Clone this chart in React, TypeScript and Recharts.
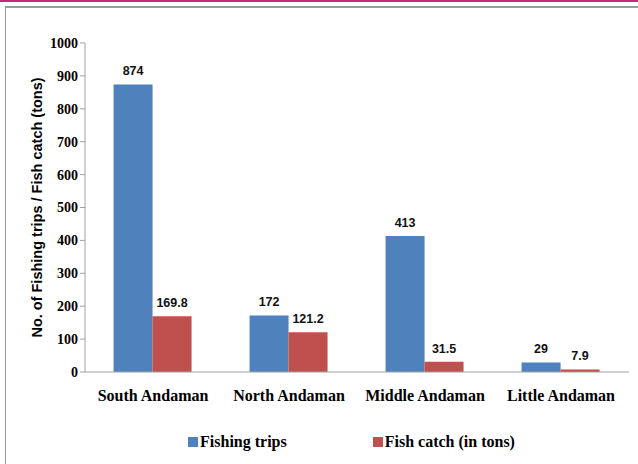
import React from 'react';
import { BarChart, Bar, XAxis, YAxis, Legend, LabelList } from 'recharts';

const regions = ['South Andaman', 'North Andaman', 'Middle Andaman', 'Little Andaman'];
const fishingTrips = [874, 172, 413, 29];
const fishCatch = [169.8, 121.2, 31.5, 7.9];
const yTicks = [0, 100, 200, 300, 400, 500, 600, 700, 800, 900, 1000];

const BLUE = '#4F81BD';
const RED = '#C0504D';

const data = regions.map((region, i) => ({
  region,
  trips: fishingTrips[i],
  catch: fishCatch[i]
}));

const serif = 'Liberation Serif, Times New Roman, serif';
const sans = 'Liberation Sans, Arial, sans-serif';

const legendItems = [
  { label: 'Fishing trips', color: BLUE },
  { label: 'Fish catch (in tons)', color: RED }
];

const ChartLegend = () => (
  <div style={{ display: 'flex', justifyContent: 'center', gap: 86, paddingLeft: 74, paddingTop: 6 }}>
    {legendItems.map((item) => (
      <div key={item.label} style={{ display: 'flex', alignItems: 'center' }}>
        <span style={{ width: 10, height: 10, background: item.color, marginRight: 2 }} />
        <span style={{ fontFamily: serif, fontWeight: 'bold', fontSize: 16, color: '#000' }}>{item.label}</span>
      </div>
    ))}
  </div>
);

// magenta rule on top, grey edge on the left and top
const Frame = () => (
  <svg width={638} height={464} style={{ position: 'absolute', left: 0, top: 0 }}>
    <rect x={0} y={0} width={638} height={2} fill="#C8287A" />
    <rect x={5} y={6} width={633} height={2} fill="#9a9a9a" />
    <rect x={5} y={6} width={1} height={458} fill="#9a9a9a" />
  </svg>
);

const App = () => {
  return (
    <div style={{ position: 'fixed', left: 0, top: 0, width: 638, height: 464, background: '#fff' }}>
      <Frame />
      <div style={{ position: 'absolute', left: 0, top: 0 }}>
        <BarChart
          width={638}
          height={464}
          data={data}
          margin={{ top: 43, right: 9, left: 0, bottom: 7 }}
          barCategoryGap="21%"
          barGap={0}
        >
          <XAxis
            dataKey="region"
            height={55}
            tickLine={false}
            axisLine={{ stroke: '#a0a0a0' }}
            tick={{ fontFamily: serif, fontWeight: 'bold', fontSize: 16, fill: '#000' }}
            tickMargin={12}
          />
          <YAxis
            width={85}
            domain={[0, 1000]}
            ticks={yTicks}
            interval={0}
            axisLine={{ stroke: '#a0a0a0' }}
            tickLine={{ stroke: '#a0a0a0' }}
            tickSize={5}
            tick={{ fontFamily: serif, fontWeight: 'bold', fontSize: 14, fill: '#000' }}
            label={{
              value: 'No. of Fishing trips / Fish catch (tons)',
              angle: -90,
              position: 'insideLeft',
              offset: 37,
              style: { fontFamily: sans, fontWeight: 'bold', fontSize: 14.5, fill: '#000', textAnchor: 'middle' }
            }}
          />
          <Legend verticalAlign="bottom" height={30} content={<ChartLegend />} />
          <Bar dataKey="trips" name="Fishing trips" fill={BLUE} isAnimationActive={false}>
            <LabelList
              dataKey="trips"
              position="top"
              offset={9}
              style={{ fontFamily: sans, fontWeight: 'bold', fontSize: 12.5, fill: '#111' }}
            />
          </Bar>
          <Bar dataKey="catch" name="Fish catch (in tons)" fill={RED} isAnimationActive={false}>
            <LabelList
              dataKey="catch"
              position="top"
              offset={9}
              style={{ fontFamily: sans, fontWeight: 'bold', fontSize: 12.5, fill: '#111' }}
            />
          </Bar>
        </BarChart>
      </div>
    </div>
  );
};

export default App;
